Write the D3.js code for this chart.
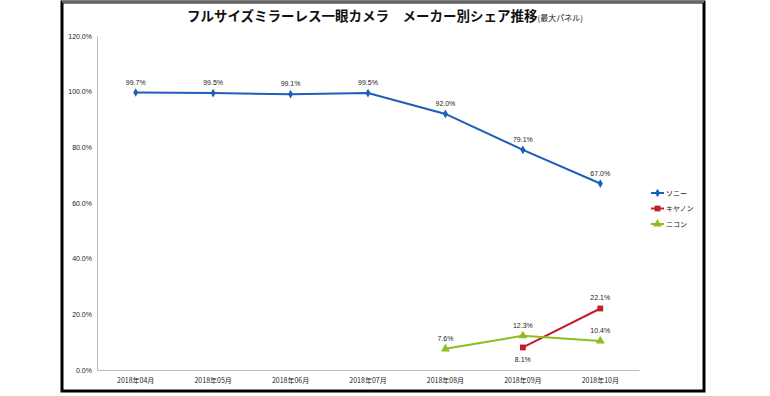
<!DOCTYPE html>
<html>
<head>
<meta charset="utf-8">
<script src="https://cdn.jsdelivr.net/npm/d3@7"></script>
<style>
  body { margin: 0; background: #fff; }
  text { font-family: "Noto Sans CJK JP", "Noto Sans", sans-serif; }
</style>
</head>
<body>
<svg width="770" height="396"></svg>
<script>
// chart data
let months = ["2018年04月", "2018年05月", "2018年06月", "2018年07月", "2018年08月", "2018年09月", "2018年10月"];
let sony = [99.7, 99.5, 99.1, 99.5, 92.0, 79.1, 67.0];
let canon = [null, null, null, null, null, 8.1, 22.1];
let nikon = [null, null, null, null, 7.6, 12.3, 10.4];
let yTicks = [0, 20, 40, 60, 80, 100, 120];
let seriesNames = ["ソニー", "キヤノン", "ニコン"];

let series = [
    {name: seriesNames[0], values: sony, color: "#1a5fb8", symbol: d3.symbolDiamond, size: 22},
    {name: seriesNames[1], values: canon, color: "#c0202a", symbol: d3.symbolSquare, size: 34},
    {name: seriesNames[2], values: nikon, color: "#8fbc1f", symbol: d3.symbolTriangle, size: 34}
];

let svg = d3.select("svg");

// outer frame
svg.append("rect")
    .attr("x", 62).attr("y", 2)
    .attr("width", 642).attr("height", 389)
    .attr("fill", "white")
    .attr("stroke", "#000")
    .attr("stroke-width", 3);
svg.append("line")
    .attr("x1", 62).attr("x2", 704).attr("y1", 2).attr("y2", 2)
    .attr("stroke", "#888").attr("stroke-width", 1.5);

let x = d3.scaleBand().domain(months).range([97, 639]);
let y = d3.scaleLinear().domain([0, 120]).range([370, 36]);

// title
let title = svg.append("text")
    .attr("x", 385).attr("y", 21)
    .attr("text-anchor", "middle")
    .attr("font-weight", "bold")
    .attr("font-size", "13.5px")
    .attr("fill", "#111");
title.append("tspan").text("フルサイズミラーレス一眼カメラ　メーカー別シェア推移");
title.append("tspan").attr("font-size", "8px").attr("font-weight", "normal").text("(最大パネル)");

// y axis
let yAxis = svg.append("g")
    .attr("transform", "translate(97,0)")
    .call(d3.axisLeft(y).tickValues(yTicks).tickSize(0).tickPadding(5)
        .tickFormat(d => d.toFixed(1) + "%"));
yAxis.select(".domain").attr("stroke", "#bbb");
yAxis.selectAll("text").attr("font-size", "7px").attr("fill", "#222")
    .style("font-family", "'Liberation Sans', sans-serif");

// x axis
let xAxis = svg.append("g")
    .attr("transform", "translate(0,370)")
    .call(d3.axisBottom(x).tickSize(0).tickPadding(8));
xAxis.select(".domain").attr("stroke", "#bbb");
xAxis.selectAll("text").attr("font-size", "7px").attr("fill", "#222");

let cx = i => x(months[i]) + x.bandwidth() / 2;

let line = d3.line()
    .defined(d => d != null)
    .x((d, i) => cx(i))
    .y(d => y(d));

series.forEach(s => {
    svg.append("path")
        .attr("d", line(s.values))
        .attr("fill", "none")
        .attr("stroke", s.color)
        .attr("stroke-width", 2);

    let pts = s.values.map((v, i) => ({v, i})).filter(d => d.v != null);

    svg.selectAll(null)
        .data(pts)
        .join("path")
        .attr("transform", d => "translate(" + cx(d.i) + "," + y(d.v) + ")")
        .attr("d", d3.symbol().type(s.symbol).size(s.size))
        .attr("fill", s.color);

    svg.selectAll(null)
        .data(pts)
        .join("text")
        .attr("x", d => cx(d.i))
        .attr("y", d => (s.name == "キヤノン" && d.v < 10) ? y(d.v) + 15 : y(d.v) - 8)
        .attr("text-anchor", "middle")
        .attr("font-size", "7px")
        .attr("fill", "#222")
        .style("font-family", "'Liberation Sans', sans-serif")
        .text(d => d.v.toFixed(1) + "%");
});

// legend
let legend = svg.append("g");
series.forEach((s, k) => {
    let ly = 193 + k * 15.5;
    legend.append("line")
        .attr("x1", 651).attr("x2", 664).attr("y1", ly).attr("y2", ly)
        .attr("stroke", s.color).attr("stroke-width", 2);
    legend.append("path")
        .attr("transform", "translate(657.5," + ly + ")")
        .attr("d", d3.symbol().type(s.symbol).size(s.size))
        .attr("fill", s.color);
    legend.append("text")
        .attr("x", 666).attr("y", ly + 2.5)
        .attr("font-size", "7px")
        .attr("fill", "#222")
        .text(s.name);
});
</script>
</body>
</html>
